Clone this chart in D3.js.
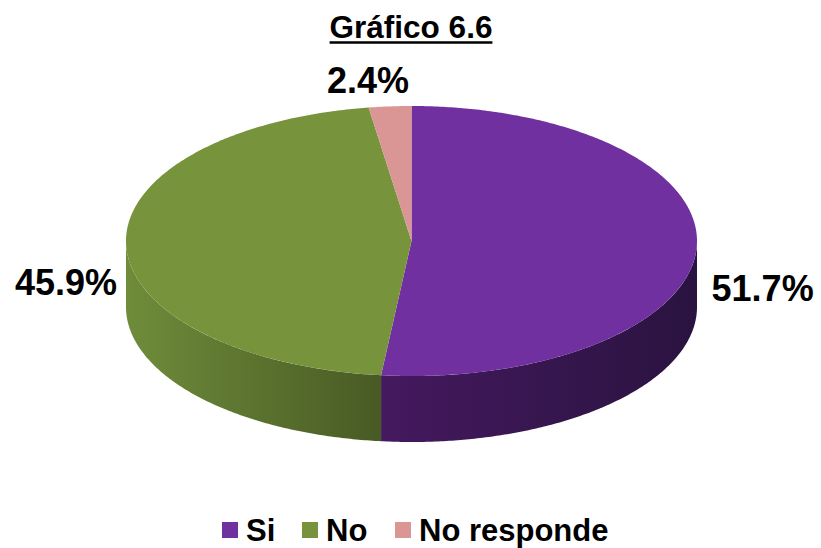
<!DOCTYPE html>
<html>
<head>
<meta charset="utf-8">
<script src="https://cdnjs.cloudflare.com/ajax/libs/d3/7.8.5/d3.min.js"></script>
<style>
  body { margin: 0; background: #fff; }
  text { font-family: "Liberation Sans", Arial, sans-serif; font-weight: bold; }
</style>
</head>
<body>
<div id="chart"></div>
<script>
// data
var categories = ["Si", "No", "No responde"];
var values = [51.7, 45.9, 2.4];
var colors = ["#7030A0", "#77933C", "#D99694"];
// side wall shading: [offset, colour] stops across the pie width
var sideStops = [
  [[0.44, "#45195F"], [1, "#2A1340"]],
  [[0, "#6F8C3A"], [0.45, "#485A24"]],
  [[0.4, "#B07877"], [0.5, "#9A6463"]]
];

var W = 821, H = 548;
var cx = 411.5, cy = 241, rx = 285.5, ry = 135, depth = 66;

var svg = d3.select("#chart").append("svg")
    .attr("width", W).attr("height", H);

// title
var title = svg.append("text")
    .attr("x", 411).attr("y", 38)
    .attr("text-anchor", "middle")
    .attr("font-size", 31.5)
    .text("Gráfico 6.6");
var tb = title.node().getBBox();
svg.append("line")
    .attr("x1", tb.x).attr("x2", tb.x + tb.width)
    .attr("y1", 42.5).attr("y2", 42.5)
    .attr("stroke", "#000").attr("stroke-width", 2.5);

var pie = d3.pie().sort(null).value(function(d) { return d; });
var arcs = pie(values);

function px(a) { return cx + rx * Math.sin(a); }
function py(a) { return cy - ry * Math.cos(a); }

function arcPoints(a0, a1, dy) {
  var n = Math.max(2, Math.ceil((a1 - a0) / 0.01));
  return d3.range(n + 1).map(function(i) {
    var a = a0 + (a1 - a0) * i / n;
    return [px(a), py(a) + dy];
  });
}

var defs = svg.append("defs");
sideStops.forEach(function(stops, i) {
  var g = defs.append("linearGradient")
      .attr("id", "side" + i)
      .attr("gradientUnits", "userSpaceOnUse")
      .attr("x1", cx - rx).attr("x2", cx + rx)
      .attr("y1", 0).attr("y2", 0);
  stops.forEach(function(s) {
    g.append("stop").attr("offset", s[0]).attr("stop-color", s[1]);
  });
});

// side walls (only the front half is visible)
arcs.forEach(function(d, i) {
  var a0 = Math.max(d.startAngle, Math.PI / 2);
  var a1 = Math.min(d.endAngle, 3 * Math.PI / 2);
  if (a1 <= a0) return;
  var top = arcPoints(a0, a1, 0);
  var bot = arcPoints(a0, a1, depth).reverse();
  svg.append("path")
      .attr("d", d3.line()(top.concat(bot)) + "Z")
      .attr("fill", "url(#side" + i + ")");
});

// top faces
arcs.forEach(function(d, i) {
  var pts = [[cx, cy]].concat(arcPoints(d.startAngle, d.endAngle, 0));
  svg.append("path")
      .attr("d", d3.line()(pts) + "Z")
      .attr("fill", colors[i]);
});

// percentage labels
var labelPos = [
  {dx: 15, dy: 53, anchor: "start"},
  {dx: -9, dy: 51, anchor: "end"},
  {dx: -22, dy: -13, anchor: "middle"}
];
arcs.forEach(function(d, i) {
  var m = (d.startAngle + d.endAngle) / 2;
  svg.append("text")
      .attr("x", px(m) + labelPos[i].dx)
      .attr("y", py(m) + labelPos[i].dy)
      .attr("text-anchor", labelPos[i].anchor)
      .attr("font-size", 36)
      .text(d3.format(".1f")(values[i]) + "%");
});

// legend
var legendX = [222, 302, 395];
var legend = svg.append("g");
categories.forEach(function(c, i) {
  legend.append("rect")
      .attr("x", legendX[i]).attr("y", 522)
      .attr("width", 16).attr("height", 16)
      .attr("fill", colors[i]);
  legend.append("text")
      .attr("x", legendX[i] + 24).attr("y", 541)
      .attr("font-size", 31)
      .text(c);
});
</script>
</body>
</html>
